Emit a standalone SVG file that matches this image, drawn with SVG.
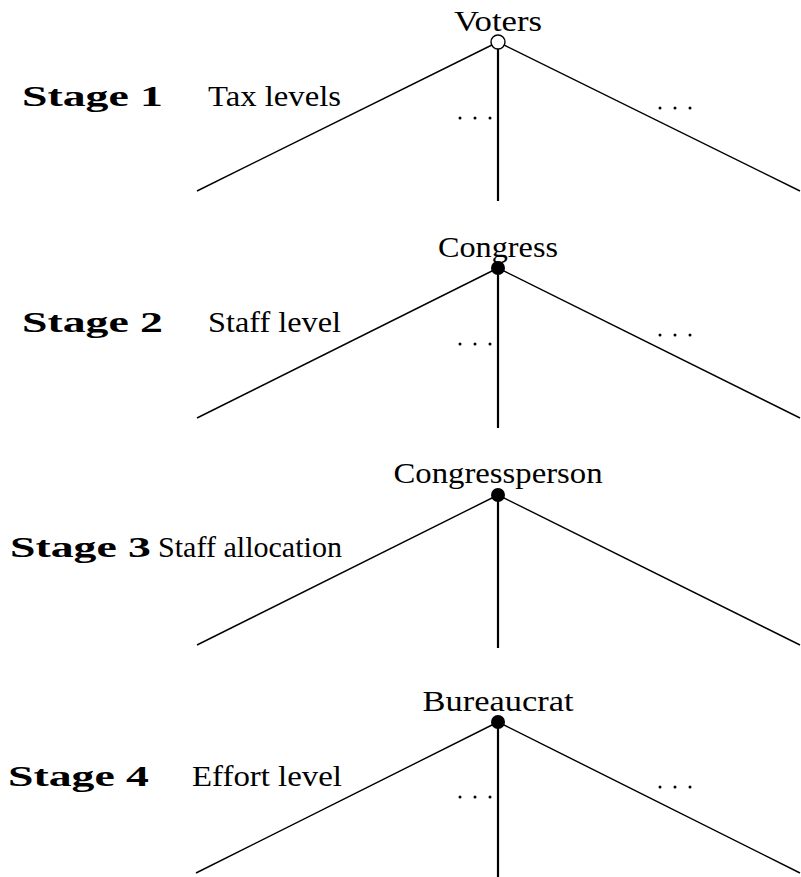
<svg xmlns="http://www.w3.org/2000/svg" width="801" height="877" viewBox="0 0 801 877">
<style>
.e{stroke:#000;stroke-width:1.4;fill:none}
.v{stroke:#000;stroke-width:2.2;fill:none}
</style>
<rect width="801" height="877" fill="#fff"/>
<g id="connectors">
<line class="e" x1="498" y1="42" x2="197" y2="191"/>
<line class="e" x1="498" y1="42" x2="800" y2="191"/>
<line class="v" x1="498" y1="42" x2="498" y2="201"/>
<line class="e" x1="498" y1="268" x2="197" y2="418"/>
<line class="e" x1="498" y1="268" x2="800" y2="418"/>
<line class="v" x1="498" y1="268" x2="498" y2="428"/>
<line class="e" x1="498" y1="495" x2="197" y2="645"/>
<line class="e" x1="498" y1="495" x2="800" y2="645"/>
<line class="v" x1="498" y1="495" x2="498" y2="648"/>
<line class="e" x1="498" y1="722" x2="196" y2="873"/>
<line class="e" x1="498" y1="722" x2="800" y2="873"/>
<line class="v" x1="498" y1="722" x2="498" y2="877"/>
</g>
<g font-family="Liberation Serif, DejaVu Serif, serif" font-size="30" fill="#000">
<g id="voters">
<circle cx="498" cy="42" r="7" fill="#fff" stroke="#000" stroke-width="1.4"/>
<text x="498" y="31" text-anchor="middle" textLength="88" lengthAdjust="spacingAndGlyphs">Voters</text>
</g>
<g id="congress">
<circle cx="498" cy="268" r="7" fill="#000"/>
<text x="498" y="257" text-anchor="middle" textLength="120" lengthAdjust="spacingAndGlyphs">Congress</text>
</g>
<g id="congressperson">
<circle cx="498" cy="495" r="7" fill="#000"/>
<text x="498" y="483" text-anchor="middle" textLength="209" lengthAdjust="spacingAndGlyphs">Congressperson</text>
</g>
<g id="bureaucrat">
<circle cx="498" cy="722" r="7" fill="#000"/>
<text x="498" y="711" text-anchor="middle" textLength="151" lengthAdjust="spacingAndGlyphs">Bureaucrat</text>
</g>
<g id="labels">
<text x="22" y="106" font-weight="bold" textLength="141" lengthAdjust="spacingAndGlyphs">Stage 1</text>
<text x="208" y="106" textLength="133" lengthAdjust="spacingAndGlyphs">Tax levels</text>
<text x="22" y="332" font-weight="bold" textLength="141" lengthAdjust="spacingAndGlyphs">Stage 2</text>
<text x="208" y="332" textLength="133" lengthAdjust="spacingAndGlyphs">Staff level</text>
<text x="10" y="557" font-weight="bold" textLength="141" lengthAdjust="spacingAndGlyphs">Stage 3</text>
<text x="158" y="557" textLength="184" lengthAdjust="spacingAndGlyphs">Staff allocation</text>
<text x="8" y="786" font-weight="bold" textLength="141" lengthAdjust="spacingAndGlyphs">Stage 4</text>
<text x="192" y="786" textLength="150" lengthAdjust="spacingAndGlyphs">Effort level</text>
</g>
</g>
<g id="dots" fill="#000">
<circle cx="460" cy="118" r="1.5"/><circle cx="475" cy="118" r="1.5"/><circle cx="490" cy="118" r="1.5"/>
<circle cx="660" cy="108" r="1.5"/><circle cx="675" cy="108" r="1.5"/><circle cx="690" cy="108" r="1.5"/>
<circle cx="460" cy="344" r="1.5"/><circle cx="475" cy="344" r="1.5"/><circle cx="490" cy="344" r="1.5"/>
<circle cx="660" cy="335" r="1.5"/><circle cx="675" cy="335" r="1.5"/><circle cx="690" cy="335" r="1.5"/>
<circle cx="460" cy="797" r="1.5"/><circle cx="475" cy="797" r="1.5"/><circle cx="490" cy="797" r="1.5"/>
<circle cx="660" cy="787" r="1.5"/><circle cx="675" cy="787" r="1.5"/><circle cx="690" cy="787" r="1.5"/>
</g>
</svg>
